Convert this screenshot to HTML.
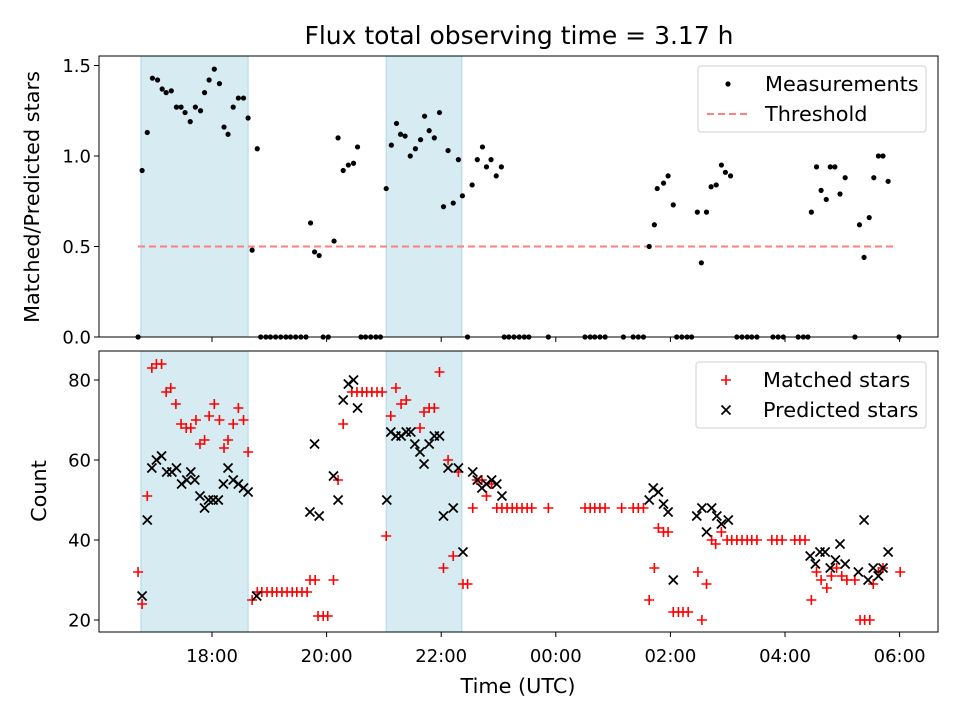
<!DOCTYPE html>
<html><head><meta charset="utf-8"><style>
body{margin:0;background:#fff;}
svg text{font-family:"DejaVu Sans","Liberation Sans",sans-serif;fill:#000;}
</style></head><body>
<svg id="c" width="960" height="720" viewBox="0 0 960 720" xmlns="http://www.w3.org/2000/svg"></svg>
<script>
// ---- data ----
const spanStart = [16.76, 21.04];
const spanEnd = [18.63, 22.36];
const threshold = 0.5;
const ratioTimes = [16.78,16.87,16.96,17.05,17.13,17.20,17.29,17.38,17.46,17.53,17.62,17.71,17.80,17.87,17.95,18.04,18.13,18.21,18.28,18.37,18.46,18.55,18.63,18.70,18.79,19.72,19.79,19.87,20.13,20.20,20.29,20.38,20.47,20.54,21.04,21.13,21.22,21.29,21.37,21.46,21.55,21.64,21.71,21.79,21.88,21.97,22.04,22.12,22.21,22.30,22.37,22.54,22.63,22.72,22.79,22.87,22.96,23.05,25.63,25.72,25.77,25.88,25.96,26.05,26.47,26.54,26.63,26.71,26.80,26.89,26.96,27.05,28.46,28.55,28.63,28.72,28.79,28.87,28.96,29.05,29.30,29.38,29.47,29.55,29.63,29.71,29.80];
const ratioValues = [0.92,1.13,1.43,1.42,1.37,1.35,1.36,1.27,1.27,1.24,1.19,1.27,1.25,1.35,1.42,1.48,1.40,1.16,1.12,1.27,1.32,1.32,1.21,0.48,1.04,0.63,0.47,0.45,0.53,1.10,0.92,0.95,0.96,1.05,0.82,1.06,1.18,1.12,1.11,1.00,1.04,1.09,1.22,1.14,1.10,1.24,0.72,1.03,0.74,0.98,0.78,0.84,0.98,1.05,0.94,0.98,0.89,0.94,0.50,0.62,0.82,0.85,0.89,0.73,0.69,0.41,0.69,0.83,0.84,0.95,0.91,0.89,0.69,0.94,0.81,0.76,0.94,0.94,0.79,0.88,0.62,0.44,0.66,0.88,1.00,1.00,0.86];
const zeroTimes = [16.71,18.85,18.94,19.02,19.11,19.20,19.29,19.37,19.46,19.55,19.64,19.94,20.03,20.60,20.68,20.77,20.86,20.94,22.46,23.10,23.18,23.27,23.36,23.45,23.53,23.87,24.51,24.60,24.68,24.77,24.86,25.18,25.35,25.44,25.53,26.11,26.20,26.29,26.37,27.16,27.25,27.34,27.42,27.51,27.79,27.88,27.97,28.23,28.32,28.40,29.22,29.99];
const matchedTimes = [16.71,16.78,16.87,16.95,17.03,17.12,17.20,17.28,17.37,17.46,17.55,17.63,17.72,17.79,17.87,17.95,18.04,18.13,18.21,18.28,18.37,18.46,18.55,18.63,18.70,18.79,18.87,18.96,19.05,19.13,19.22,19.31,19.40,19.48,19.57,19.66,19.71,19.80,19.85,19.94,20.02,20.12,20.20,20.29,20.44,20.53,20.62,20.70,20.79,20.88,20.97,21.04,21.12,21.21,21.30,21.39,21.63,21.70,21.79,21.88,21.97,22.04,22.12,22.21,22.30,22.38,22.46,22.55,22.62,22.71,22.79,22.88,22.97,23.06,23.15,23.24,23.32,23.41,23.50,23.58,23.87,24.51,24.60,24.68,24.77,24.86,25.15,25.35,25.44,25.53,25.63,25.72,25.79,25.88,25.96,26.05,26.14,26.22,26.31,26.48,26.55,26.63,26.72,26.79,26.89,26.99,27.07,27.16,27.25,27.34,27.42,27.51,27.77,27.86,27.95,28.17,28.26,28.35,28.46,28.55,28.63,28.73,28.81,28.90,28.99,29.08,29.22,29.31,29.39,29.48,29.54,29.63,29.71,30.01];
const matchedValues = [32,24,51,83,84,84,77,78,74,69,68,68,70,64,65,71,74,70,63,65,69,73,70,62,25,27,27,27,27,27,27,27,27,27,27,27,30,30,21,21,21,30,55,69,77,77,77,77,77,77,77,41,71,78,74,75,68,72,73,73,82,33,60,36,57,29,29,48,55,55,51,54,48,48,48,48,48,48,48,48,48,48,48,48,48,48,48,48,48,48,25,33,43,42,42,22,22,22,22,32,20,29,40,39,42,40,40,40,40,40,40,40,40,40,40,40,40,40,25,32,30,28,31,33,31,30,30,20,20,20,29,32,33,32];
const predictedTimes = [16.78,16.87,16.95,17.03,17.12,17.21,17.30,17.38,17.47,17.56,17.63,17.70,17.79,17.87,17.94,18.02,18.11,18.20,18.28,18.37,18.46,18.55,18.63,18.78,19.71,19.79,19.87,20.12,20.20,20.29,20.38,20.47,20.54,21.05,21.12,21.21,21.30,21.39,21.47,21.54,21.63,21.70,21.79,21.88,21.97,22.04,22.12,22.21,22.30,22.38,22.55,22.63,22.71,22.79,22.88,22.97,23.06,25.63,25.70,25.79,25.88,25.96,26.05,26.46,26.55,26.63,26.72,26.81,26.89,27.01,28.44,28.53,28.61,28.70,28.79,28.88,28.96,29.05,29.28,29.38,29.45,29.54,29.63,29.71,29.80];
const predictedValues = [26,45,58,60,61,57,57,58,54,55,57,55,51,48,50,50,50,54,58,55,54,53,52,26,47,64,46,56,50,75,79,80,73,50,67,66,66,67,67,64,62,59,64,66,66,46,58,48,58,37,57,55,53,54,55,54,51,50,53,52,49,47,30,46,48,42,48,46,44,45,36,34,37,37,33,35,39,34,32,45,30,33,31,33,37];
const xTickHours = [18,20,22,24,26,28,30];
const xTickLabels = ["18:00","20:00","22:00","00:00","02:00","04:00","06:00"];
const topTicks = [0,0.5,1.0,1.5];
const topTickLabels = ["0.0","0.5","1.0","1.5"];
const botTicks = [20,40,60,80];
const botTickLabels = ["20","40","60","80"];

// ---- scales ----
const L=99,R=938;
const sx = h => 212 + (h-18)*57.3;
const syTop = v => 337 - v*181;
const syBot = v => 620 - (v-20)*4;
const TOP={t:56,b:337}, BOT={t:351,b:632};
const NS="http://www.w3.org/2000/svg";
const svg=document.getElementById('c');
function mk(tag,attrs,parent){const e=document.createElementNS(NS,tag);for(const k in attrs)e.setAttribute(k,attrs[k]);(parent||svg).appendChild(e);return e;}

function panel(P,name){
  const g=mk('g',{});
  
  
  for(let i=0;i<spanStart.length;i++){
    const r=mk('rect',{x:sx(spanStart[i]),y:P.t,width:sx(spanEnd[i])-sx(spanStart[i]),height:P.b-P.t,fill:'#add8e6','fill-opacity':0.5,stroke:'#add8e6','stroke-width':1},g);
    
    
  }
  return g;
}
function frame(P,name){
  const r=mk('rect',{x:L,y:P.t,width:R-L,height:P.b-P.t,fill:'none',stroke:'#000','stroke-width':1});
  
  
  xTickHours.forEach(h=>{mk('line',{x1:sx(h),x2:sx(h),y1:P.b,y2:P.b+5,stroke:'#000','stroke-width':1});});
}
function txt(x,y,s,attrs,name){const t=mk('text',Object.assign({x:x,y:y,'font-size':18},attrs||{}));t.textContent=s;
  
  
  return t;}
function plus(x,y,g){mk('path',{d:`M${x-5},${y}H${x+5}M${x},${y-5}V${y+5}`,stroke:'#ff0000','stroke-width':1.6,fill:'none'},g);}
function cross(x,y,g){mk('path',{d:`M${x-4.5},${y-4.5}L${x+4.5},${y+4.5}M${x-4.5},${y+4.5}L${x+4.5},${y-4.5}`,stroke:'#000','stroke-width':1.8,fill:'none'},g);}

// title
txt(519,44,'Flux total observing time = 3.17 h',{'font-size':25,'text-anchor':'middle'},'chart-title');

// top panel
const gt=panel(TOP,'ratio-panel');
const th=mk('line',{x1:138,x2:896,y1:syTop(threshold),y2:syTop(threshold),stroke:'#ff7f7f','stroke-width':2,'stroke-dasharray':'7,4'},gt);


ratioTimes.forEach((t,i)=>{const c=mk('circle',{cx:sx(t),cy:syTop(ratioValues[i]),r:2.6,fill:'#000'},gt);
  
  });
zeroTimes.forEach(t=>{const c=mk('circle',{cx:sx(t),cy:syTop(0),r:2.6,fill:'#000'},gt);
  
  });
frame(TOP,'ratio-axes-frame');
topTicks.forEach((v,i)=>{mk('line',{x1:L-5,x2:L,y1:syTop(v),y2:syTop(v),stroke:'#000','stroke-width':1});
  txt(L-8,syTop(v)+6.5,topTickLabels[i],{'text-anchor':'end'},'y-tick-label-top');});
txt(39,197,'Matched/Predicted stars',{'text-anchor':'middle','font-size':20.8,transform:'rotate(-90 39 197)'},'y-axis-title-top');

// bottom panel
const gb=panel(BOT,'count-panel');
matchedTimes.forEach((t,i)=>plus(sx(t),syBot(matchedValues[i]),gb));
predictedTimes.forEach((t,i)=>cross(sx(t),syBot(predictedValues[i]),gb));
frame(BOT,'count-axes-frame');
botTicks.forEach((v,i)=>{mk('line',{x1:L-5,x2:L,y1:syBot(v),y2:syBot(v),stroke:'#000','stroke-width':1});
  txt(L-8,syBot(v)+6.5,botTickLabels[i],{'text-anchor':'end'},'y-tick-label-bottom');});
xTickHours.forEach((h,i)=>txt(sx(h),662,xTickLabels[i],{'text-anchor':'middle'},'x-tick-label'));
txt(46,491,'Count',{'text-anchor':'middle','font-size':20.8,transform:'rotate(-90 46 491)'},'y-axis-title-bottom');
txt(518,693,'Time (UTC)',{'text-anchor':'middle','font-size':20.8},'x-axis-title');

// legends
const lg1=mk('g',{});


mk('rect',{x:698,y:66,width:228,height:66,rx:3,fill:'#fff','fill-opacity':0.8,stroke:'#d0d0d0'},lg1);
mk('circle',{cx:728,cy:84,r:2.6,fill:'#000'},lg1);
mk('line',{x1:707,x2:749,y1:114,y2:114,stroke:'#ff7f7f','stroke-width':2,'stroke-dasharray':'7,4'},lg1);
txt(765,91,'Measurements',{'font-size':20.8},'legend-entry-measurements');
txt(765,121,'Threshold',{'font-size':20.8},'legend-entry-threshold');
const lg2=mk('g',{});


mk('rect',{x:696,y:362,width:230,height:66,rx:3,fill:'#fff','fill-opacity':0.8,stroke:'#d0d0d0'},lg2);
plus(726,380,lg2);cross(726,410,lg2);
txt(763,387,'Matched stars',{'font-size':20.8},'legend-entry-matched');
txt(763,417,'Predicted stars',{'font-size':20.8},'legend-entry-predicted');
</script>
</body></html>
